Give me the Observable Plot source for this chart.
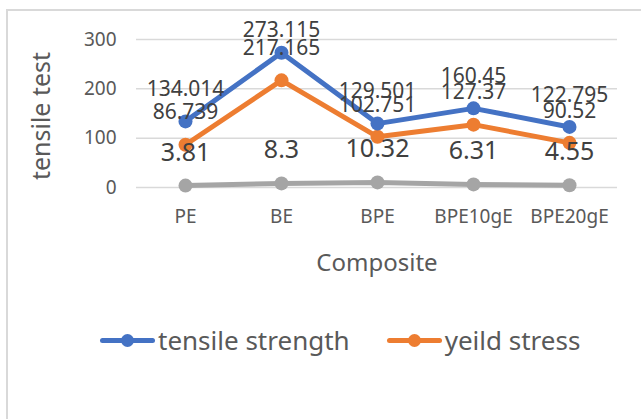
<!DOCTYPE html>
<html>
<head>
<meta charset="utf-8">
<script src="https://cdn.jsdelivr.net/npm/d3@7"></script>
<script src="https://cdn.jsdelivr.net/npm/@observablehq/plot@0.6"></script>
<style>
  html, body { margin: 0; padding: 0; background: #fff; overflow: hidden; }
  body { width: 641px; height: 419px; position: relative; font-family: "Noto Sans", sans-serif; }
  #frame { position: absolute; left: 6px; top: 9px; width: 700px; height: 500px; border: 2px solid #d9d9d9; box-sizing: border-box; pointer-events: none; }
  #chart { position: absolute; left: 0; top: 0; }
  .title { position: absolute; font-size: 24px; color: #595959; white-space: nowrap; line-height: 1; }
  #ytitle { left: 40px; top: 116px; transform: translate(-50%, -50%) rotate(-90deg); font-size: 25px; }
  #xtitle { left: 377px; top: 262px; transform: translate(-50%, -50%); }
  #legend { position: absolute; left: 100px; top: 322px; display: flex; align-items: center; font-size: 26px; color: #595959; }
  .item { display: flex; align-items: center; margin-right: 37px; }
  .sw { position: relative; width: 55px; height: 36px; margin-right: 3px; }
  .sw .ln { position: absolute; left: 0; right: 0; top: 15.5px; height: 5px; border-radius: 3px; }
  .sw .dt { position: absolute; left: 21px; top: 11.5px; width: 13px; height: 13px; border-radius: 50%; }
</style>
</head>
<body>
<div id="chart"></div>
<div id="ytitle" class="title"></div>
<div id="xtitle" class="title"></div>
<div id="legend"></div>
<div id="frame"></div>
<script>
const categories = ["PE", "BE", "BPE", "BPE10gE", "BPE20gE"];
const tensileStrength = [134.014, 273.115, 129.501, 160.45, 122.795];
const yieldStress = [86.739, 217.165, 102.751, 127.37, 90.52];
const elongation = [3.81, 8.3, 10.32, 6.31, 4.55];
const seriesNames = ["tensile strength", "yeild stress", "elongation"];
const legendNames = ["tensile strength", "yeild stress"];
const seriesColors = ["#4472C4", "#ED7D31", "#A5A5A5"];
const yTicks = [0, 100, 200, 300];
const yLabel = "tensile test";
const xLabel = "Composite";

const seriesValues = [tensileStrength, yieldStress, elongation];
const rows = [];
seriesValues.forEach((vals, s) => {
  vals.forEach((v, i) => rows.push({cat: categories[i], value: v, series: seriesNames[s]}));
});
const bySeries = (name) => rows.filter(d => d.series === name);

const marks = [
  Plot.gridY(yTicks, {stroke: "#d9d9d9", strokeOpacity: 1, strokeWidth: 1.5}),
  Plot.axisY(yTicks, {tickSize: 0, tickPadding: 20, fontSize: 19, fill: "#595959", label: null}),
  Plot.axisX(categories, {tickSize: 0, tickPadding: 22, fontSize: 19, fill: "#595959", label: null})
];
// lines and dots, elongation first
[2, 1, 0].forEach(s => {
  const data = bySeries(seriesNames[s]);
  marks.push(Plot.line(data, {x: "cat", y: "value", stroke: seriesColors[s], strokeWidth: 5, strokeLinejoin: "round"}));
  marks.push(Plot.dot(data, {x: "cat", y: "value", r: 7, fill: seriesColors[s], stroke: "none"}));
});
// data labels
marks.push(Plot.text(bySeries(seriesNames[2]), {x: "cat", y: "value", text: d => String(d.value), dy: -33, fontSize: 25, fill: "#404040"}));
marks.push(Plot.text(bySeries(seriesNames[1]), {x: "cat", y: "value", text: d => String(d.value), dy: -32, fontSize: 21, fill: "#404040"}));
marks.push(Plot.text(bySeries(seriesNames[0]).filter(d => d.value < 250), {x: "cat", y: "value", text: d => String(d.value), dy: -32, fontSize: 21, fill: "#404040"}));
marks.push(Plot.text(bySeries(seriesNames[0]).filter(d => d.value >= 250), {x: "cat", y: "value", text: d => String(d.value), dy: -22, fontSize: 21, fill: "#404040"}));

const chart = Plot.plot({
  width: 641,
  height: 300,
  marginLeft: 136,
  marginRight: 24,
  marginTop: 39,
  marginBottom: 113,
  style: {fontFamily: "Noto Sans", color: "#595959", overflow: "visible", background: "transparent"},
  x: {type: "point", domain: categories, padding: 0.5, axis: null},
  y: {domain: [0, 300], axis: null},
  marks
});
document.getElementById("chart").appendChild(chart);

document.getElementById("ytitle").textContent = yLabel;
document.getElementById("xtitle").textContent = xLabel;

const legend = document.getElementById("legend");
legendNames.forEach((name, i) => {
  const item = document.createElement("div");
  item.className = "item";
  const sw = document.createElement("div");
  sw.className = "sw";
  const ln = document.createElement("div"); ln.className = "ln"; ln.style.background = seriesColors[i];
  const dt = document.createElement("div"); dt.className = "dt"; dt.style.background = seriesColors[i];
  sw.appendChild(ln); sw.appendChild(dt);
  const tx = document.createElement("span"); tx.textContent = name;
  item.appendChild(sw); item.appendChild(tx);
  legend.appendChild(item);
});
</script>
</body>
</html>
